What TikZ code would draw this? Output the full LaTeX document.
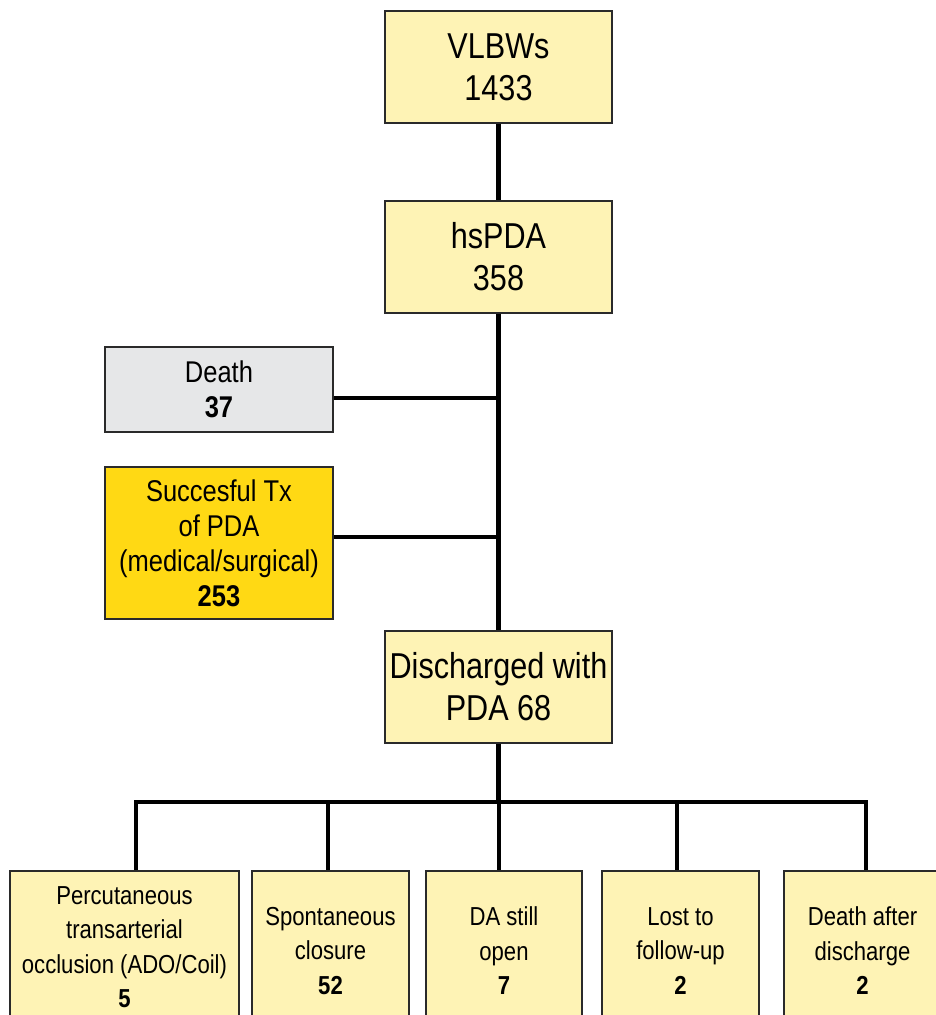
\documentclass[tikz,border=0pt]{standalone}
\usepackage{fontspec}
\setmainfont{Liberation Sans}[FakeStretch=0.85]
\definecolor{boxyellow}{HTML}{FEF3B5}
\definecolor{boxgold}{HTML}{FFD914}
\definecolor{boxgray}{HTML}{E6E7E8}
\definecolor{edgegray}{HTML}{2A2A2A}
\begin{document}
\begin{tikzpicture}[x=1pt,y=-1pt,
  box/.style={draw=edgegray, line width=1.8pt, fill=boxyellow, align=center, inner sep=0pt},
  topbox/.style={box, minimum width=227pt, minimum height=112pt, font=\fontsize{36}{42}\selectfont},
  midbox/.style={box, minimum width=228pt, font=\fontsize{30}{35}\selectfont},
  lowbox/.style={box, minimum height=160pt, font=\fontsize{26}{34.5}\selectfont},
  conn/.style={draw=black, line width=4.5pt}]
\useasboundingbox (0,0) rectangle (936,1015);
\clip (0,0) rectangle (936,1015);
\fill[white] (0,0) rectangle (936,1015);

\node[topbox] (vlbw) at (498.5,67) {VLBWs\\1433};
\node[topbox] (hs) at (498.5,257) {hsPDA\\358};
\node[midbox, fill=boxgray, minimum height=85pt] (death) at (219,389.5) {Death\\\textbf{37}};
\node[midbox, fill=boxgold, minimum height=152pt] (succ) at (219,543) {Succesful Tx\\of PDA\\(medical/surgical)\\\textbf{253}};
\node[topbox] (dis) at (498.5,687) {Discharged with\\PDA 68};

\node[lowbox, minimum width=229pt, minimum height=152pt] (b1) at (124.5,947) {Percutaneous\\transarterial\\occlusion (ADO/Coil)\\\textbf{5}};
\node[lowbox, minimum width=157pt] (b2) at (330.5,951) {Spontaneous\\closure\\\textbf{52}};
\node[lowbox, minimum width=156pt] (b3) at (504,951) {DA still\\open\\\textbf{7}};
\node[lowbox, minimum width=157pt] (b4) at (680.5,951) {Lost to\\follow-up\\\textbf{2}};
\node[lowbox, minimum width=157pt] (b5) at (862.5,951) {Death after\\discharge\\\textbf{2}};

\coordinate (jd) at (499,398);
\coordinate (js) at (499,537);
\coordinate (busL) at (136,802);
\coordinate (busR) at (866,802);
\coordinate (d1) at (136,802);
\coordinate (d2) at (328,802);
\coordinate (d3) at (499,802);
\coordinate (d4) at (677,802);
\coordinate (d5) at (866,802);

\draw[conn] (vlbw.south) -- (hs.north);
\draw[conn] (hs.south) -- (dis.north);
\draw[conn] (jd) -- (jd -| death.east);
\draw[conn] (js) -- (js -| succ.east);
\draw[conn] (dis.south) -- (dis.south |- d3);
\draw[conn, line cap=rect] (busL) -- (busR);
\draw[conn] (d1) -- (d1 |- b1.north);
\draw[conn] (d2) -- (d2 |- b2.north);
\draw[conn] (d3) -- (d3 |- b3.north);
\draw[conn] (d4) -- (d4 |- b4.north);
\draw[conn] (d5) -- (d5 |- b5.north);
\end{tikzpicture}
\end{document}
